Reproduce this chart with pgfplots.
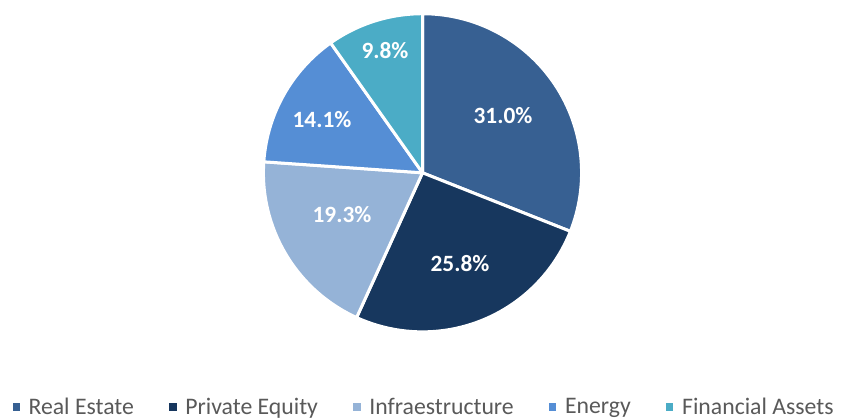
\documentclass[border=0pt]{standalone}
\usepackage{pgfplots}
\usepackage{pgfplotstable}
\pgfplotsset{compat=1.18}
\usepackage{fontspec}
\setmainfont{Carlito}
\definecolor{cRE}{HTML}{376092}
\definecolor{cPE}{HTML}{17375E}
\definecolor{cIN}{HTML}{95B3D7}
\definecolor{cEN}{HTML}{558ED5}
\definecolor{cFA}{HTML}{4BACC6}
\definecolor{legendgray}{HTML}{595959}

% value (percent), label position (px, y up), colour
\pgfplotstableread{
value lx ly color
31.0 503 304 cRE
25.8 460 156 cPE
19.3 342 205 cIN
14.1 322 300 cEN
9.8  385 369 cFA
}\piedata

\begin{document}
\begin{tikzpicture}
\begin{axis}[
  scale only axis, width=634.5pt, height=315pt,
  xmin=0, xmax=846, ymin=0, ymax=420,
  hide axis, clip=false,
  legend columns=5,
  legend image code/.code={\fill[#1, draw=none] (0pt,-2.7pt) rectangle (5.4pt,2.7pt);},
  legend style={draw=none, fill=none, at={(axis cs:12.7,13)}, anchor=west,
    inner sep=0pt, outer sep=0pt,
    font=\fontsize{17.8}{20}\selectfont, text=legendgray,
    /tikz/every odd column/.append style={column sep=4.5pt},
    /tikz/every even column/.append style={column sep=24.6pt}},
]
\pgfplotstablegetrowsof{\piedata}
\pgfmathtruncatemacro\nrows{\pgfplotsretval-1}
\def\startang{90}
\pgfplotsforeachungrouped \i in {0,...,\nrows}{%
  \pgfplotstablegetelem{\i}{value}\of{\piedata}\let\v\pgfplotsretval
  \pgfplotstablegetelem{\i}{color}\of{\piedata}\let\c\pgfplotsretval
  \pgfplotstablegetelem{\i}{lx}\of{\piedata}\let\lx\pgfplotsretval
  \pgfplotstablegetelem{\i}{ly}\of{\piedata}\let\ly\pgfplotsretval
  \pgfmathsetmacro\endang{\startang-3.6*\v}%
  \edef\doit{\noexpand\fill[\c, draw=white, line width=2.25pt, line join=round]
    (axis cs:422.5,247.2) -- ++(\startang:119.3pt)
    arc[start angle=\startang, end angle=\endang, radius=119.3pt] -- cycle;
    \noexpand\node[text=white, font=\noexpand\fontsize{17.5}{20}\noexpand\selectfont\noexpand\bfseries]
      at (axis cs:\lx,\ly) {\v\noexpand\%};}%
  \doit
  \let\startang\endang
}
\addlegendimage{fill=cRE}\addlegendentry{Real Estate}
\addlegendimage{fill=cPE}\addlegendentry{Private Equity}
\addlegendimage{fill=cIN}\addlegendentry{Infraestructure}
\addlegendimage{fill=cEN}\addlegendentry{Energy}
\addlegendimage{fill=cFA}\addlegendentry{Financial Assets}
\end{axis}
\pgfresetboundingbox
\useasboundingbox (current axis.south west) rectangle (current axis.north east);
\end{tikzpicture}
\end{document}
